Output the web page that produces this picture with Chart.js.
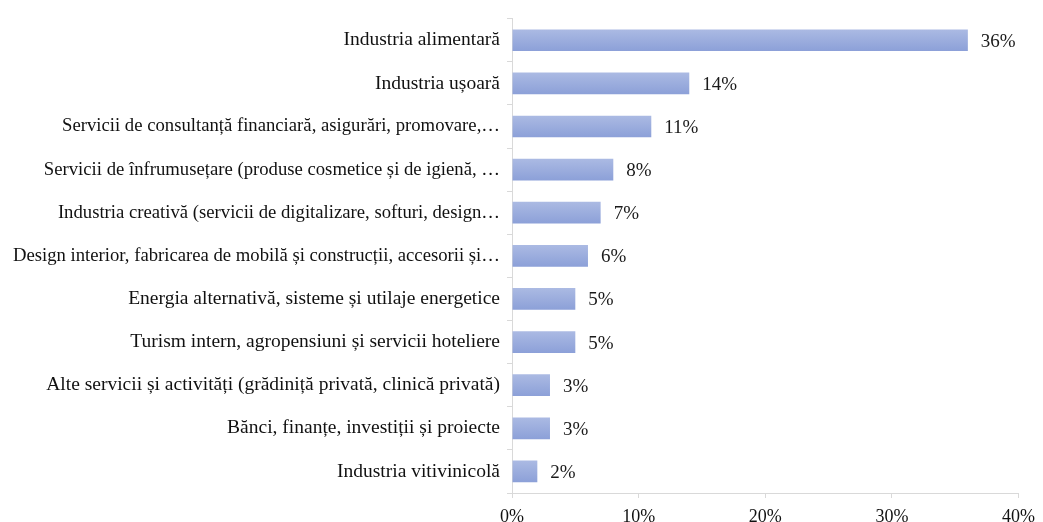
<!DOCTYPE html>
<html>
<head>
<meta charset="utf-8">
<script src="https://cdn.jsdelivr.net/npm/chart.js@4.4.0/dist/chart.umd.min.js"></script>
<style>
  html, body { margin: 0; padding: 0; background: #fff; }
  #wrap { width: 1043px; height: 522px; position: relative; }
</style>
</head>
<body>
<div id="wrap"><canvas id="chart"></canvas></div>
<script>
// ── Data ──────────────────────────────────────────
const categories = [
  'Industria alimentară',
  'Industria ușoară',
  'Servicii de consultanță financiară, asigurări, promovare,…',
  'Servicii de înfrumusețare (produse cosmetice și de igienă, …',
  'Industria creativă (servicii de digitalizare, softuri, design…',
  'Design interior, fabricarea de mobilă și construcții, accesorii și…',
  'Energia alternativă, sisteme și utilaje energetice',
  'Turism intern, agropensiuni și servicii hoteliere',
  'Alte servicii și activități (grădiniță privată, clinică privată)',
  'Bănci, finanțe, investiții și proiecte',
  'Industria vitivinicolă'
];
const shares = [36, 14, 11, 8, 7, 6, 5, 5, 3, 3, 2];
const xTicks = [0, 10, 20, 30, 40];

const FONT = "'Liberation Serif', 'Times New Roman', serif";
const AXIS_GREY = '#d9d9d9';
const BAR_FRACTION = 0.72 * 0.7;

// soft vertical gradient per bar (office-style fill)
function barFill(context) {
  const chart = context.chart;
  const y = chart.scales && chart.scales.y;
  if (!chart.chartArea || !y) return '#9cafdf';
  const centre = y.getPixelForValue(context.dataIndex);
  const half = (chart.chartArea.height / categories.length) * BAR_FRACTION / 2;
  const g = chart.ctx.createLinearGradient(0, centre - half, 0, centre + half);
  g.addColorStop(0, '#abbae3');
  g.addColorStop(1, '#8ca0d8');
  return g;
}

// value labels drawn at the end of each bar
const barValueLabels = {
  id: 'barValueLabels',
  afterDatasetsDraw(chart) {
    const ctx = chart.ctx;
    const meta = chart.getDatasetMeta(0);
    ctx.save();
    ctx.font = '19px ' + FONT;
    ctx.fillStyle = '#1a1a1a';
    ctx.textAlign = 'left';
    ctx.textBaseline = 'middle';
    meta.data.forEach((bar, i) => {
      ctx.fillText(shares[i] + '%', bar.x + 13, bar.y + 1.5);
    });
    ctx.restore();
  }
};

new Chart(document.getElementById('chart'), {
  type: 'bar',
  data: {
    labels: categories,
    datasets: [{
      data: shares,
      backgroundColor: barFill,
      borderWidth: 0,
      barPercentage: 0.72,
      categoryPercentage: 0.7
    }]
  },
  options: {
    indexAxis: 'y',
    responsive: true,
    maintainAspectRatio: false,
    animation: false,
    layout: { padding: { top: 13, right: 21, left: 4, bottom: 0 } },
    plugins: { legend: { display: false }, tooltip: { enabled: false } },
    scales: {
      y: {
        afterFit: (scale) => { scale.width = 508; },
        border: { color: AXIS_GREY, width: 1 },
        grid: { display: true, offset: true, drawOnChartArea: false, color: AXIS_GREY, tickLength: 5 },
        ticks: {
          color: '#111',
          // the truncated (…) labels sit a bit tighter, as in the original
          font: (c) => {
            const lbl = categories[c.index] || '';
            return { family: FONT, size: lbl.endsWith('…') ? 18.7 : 19.5 };
          },
          padding: 7,
          autoSkip: false
        }
      },
      x: {
        min: 0,
        max: 40,
        afterBuildTicks: (scale) => { scale.ticks = xTicks.map(v => ({ value: v })); },
        afterFit: (scale) => { scale.height = 29; },
        border: { color: AXIS_GREY, width: 1 },
        grid: { display: true, drawOnChartArea: false, color: AXIS_GREY, tickLength: 5 },
        ticks: {
          color: '#111',
          font: { family: FONT, size: 18 },
          padding: 8,
          maxRotation: 0,
          callback: (v) => v + '%'
        }
      }
    }
  },
  plugins: [barValueLabels]
});
</script>
</body>
</html>
